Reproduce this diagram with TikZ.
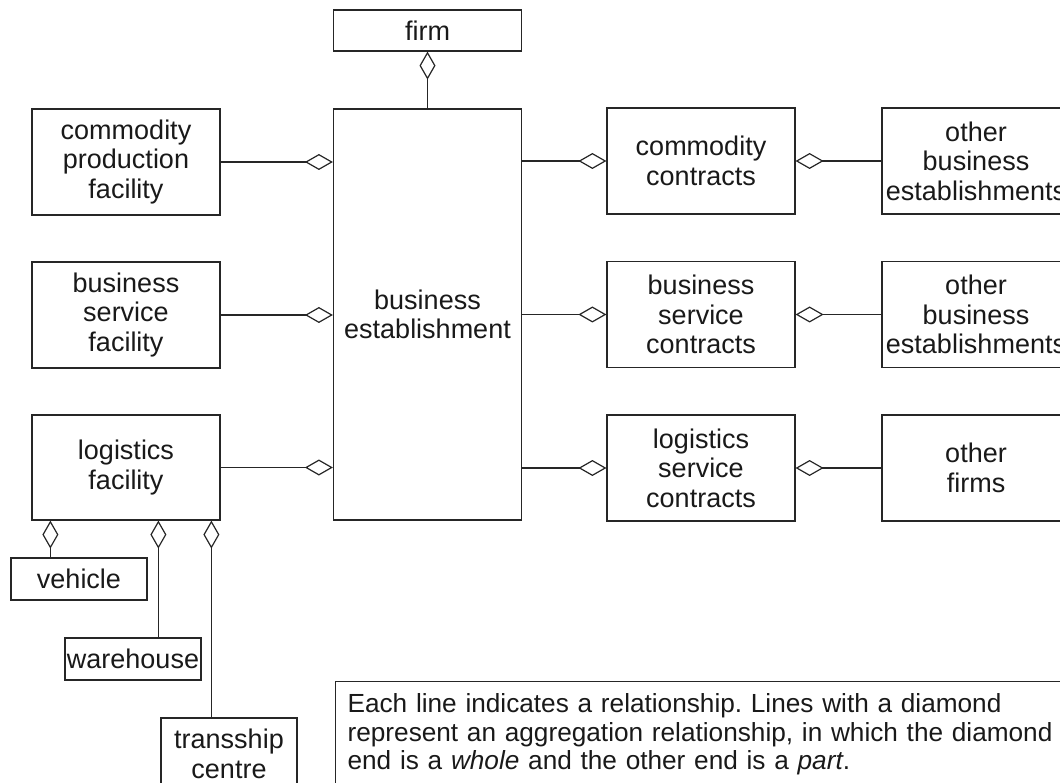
\documentclass[tikz,border=0pt]{standalone}
\usepackage{fontspec}
\setmainfont{Liberation Sans}
\usetikzlibrary{arrows.meta}
\frenchspacing
\begin{document}
\begin{tikzpicture}[x=1pt,y=-1pt,
  box/.style={draw=black!85, line width=1.2pt, rectangle, inner sep=0pt,
    align=center, text=black!90, font=\fontsize{27}{29.5}\selectfont},
  bigbox/.style={box, minimum width=188pt, minimum height=106pt},
  smallbox/.style={box, minimum width=136pt, minimum height=42pt},
  link/.style={draw=black!85, line width=1.2pt},
  agg/.style={link, -{Diamond[open, length=28pt, width=16pt]}}
]
% page frame (clips parts that run off the edge)
\clip (0,0) rectangle (1060,783);

% central class and its owner
\node[box, minimum width=188pt, minimum height=41pt] (firm) at (427.5,30.5) {firm};
\node[box, minimum width=188pt, minimum height=411pt] (be) at (427.5,314.5) {business\\establishment};

% facilities on the left
\node[bigbox] (cpf) at (126,162) {commodity\\production\\facility};
\node[bigbox] (bsf) at (126,315) {business\\service\\facility};
\node[bigbox, minimum height=105pt] (lf) at (126,467.5) {logistics\\facility};

% contracts
\node[bigbox] (cc)  at (701,161)   {commodity\\contracts};
\node[bigbox] (bsc) at (701,314.5) {business\\service\\contracts};
\node[bigbox] (lsc) at (701,468)   {logistics\\service\\contracts};

% contract partners
\node[bigbox] (ob1) at (976,161)   {other\\business\\establishments};
\node[bigbox] (ob2) at (976,314.5) {other\\business\\establishments};
\node[bigbox] (of)  at (976,468)   {other\\firms};

% parts of a logistics facility
\node[smallbox] (veh) at (79,579)  {vehicle};
\node[smallbox] (wh)  at (133,659) {warehouse};
\node[box, minimum width=136pt, minimum height=72pt] (ts) at (229,754) {transship\\centre};

% explanatory note
\node[draw=black!85, line width=1.2pt, anchor=north west, inner xsep=12pt, inner ysep=12pt,
      text width=720pt, align=left, text=black!90,
      font=\fontsize{26.2}{28.6}\selectfont] (note) at (335,681)
  {Each line indicates a relationship. Lines with a diamond\\
   represent an aggregation relationship, in which the diamond\\
   end is a \textit{whole} and the other end is a \textit{part}.};

% aggregation links
\draw[agg] (be.north) -- (firm.south);
\draw[agg] (cpf.east) -- (cpf.east -| be.west);
\draw[agg] (bsf.east) -- (bsf.east -| be.west);
\draw[agg] (lf.east)  -- (lf.east -| be.west);
\draw[agg] (cc.west -| be.east)  -- (cc.west);
\draw[agg] (bsc.west -| be.east) -- (bsc.west);
\draw[agg] (lsc.west -| be.east) -- (lsc.west);
\draw[agg] (ob1.west) -- (ob1.west -| cc.east);
\draw[agg] (ob2.west) -- (ob2.west -| bsc.east);
\draw[agg] (of.west)  -- (of.west -| lsc.east);
\draw[agg] ([xshift=40pt]veh.north west) -- ([xshift=40pt]veh.north west |- lf.south);
\draw[agg] ([xshift=94pt]wh.north west)  -- ([xshift=94pt]wh.north west |- lf.south);
\draw[agg] ([xshift=51pt]ts.north west)  -- ([xshift=51pt]ts.north west |- lf.south);
\end{tikzpicture}
\end{document}
